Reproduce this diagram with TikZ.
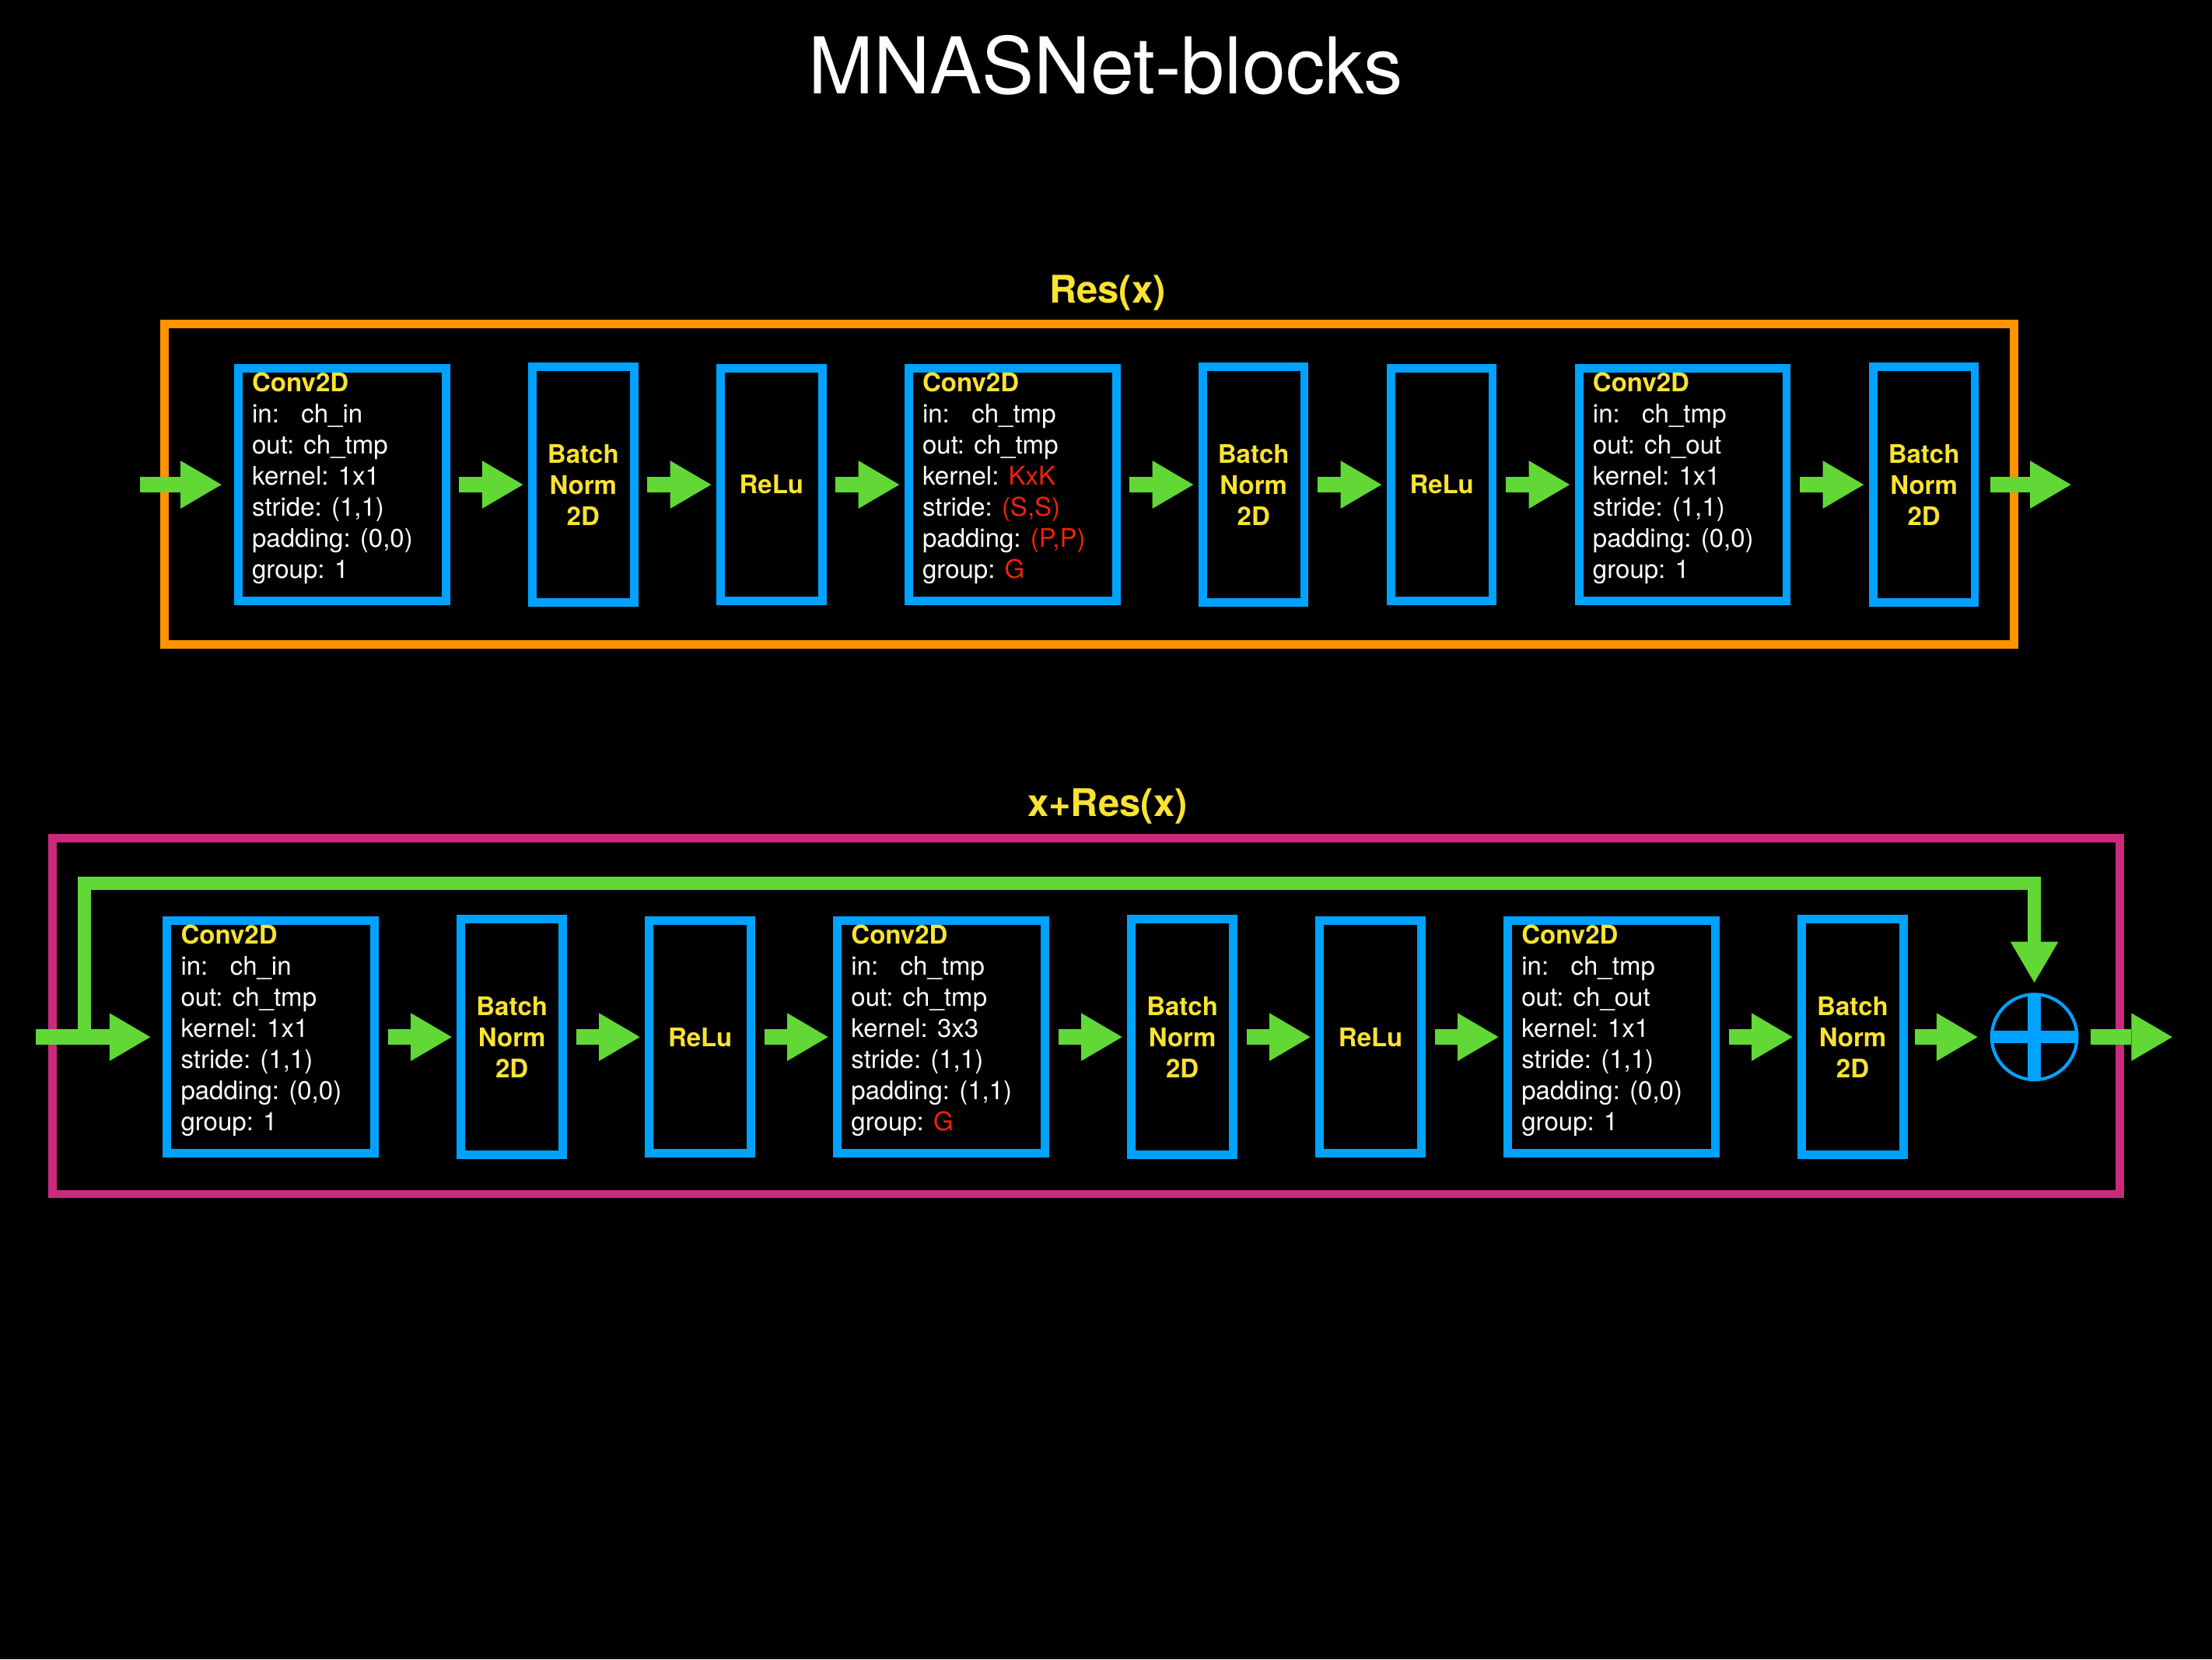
\documentclass[tikz,border=0pt]{standalone}
\usepackage{fontspec}
\setmainfont{TeX Gyre Heros}
\usepackage{calc}
\usetikzlibrary{arrows.meta, calc, positioning}
\definecolor{boxblue}{HTML}{00A2FF}
\definecolor{flowgreen}{HTML}{61D836}
\definecolor{resorange}{HTML}{FF9300}
\definecolor{skipmagenta}{HTML}{CB297B}
\definecolor{labelyellow}{HTML}{F9E232}
\definecolor{paramred}{HTML}{EE220C}
\tikzstyle{conv} = [rectangle, draw=boxblue, line width=6pt, minimum width=147pt, minimum height=165pt, inner sep=0pt, outer sep=0pt]
\tikzstyle{norm} = [rectangle, draw=boxblue, line width=6pt, minimum width=72pt, minimum height=167pt, inner sep=0pt, outer sep=0pt, align=center, text=labelyellow, font=\bfseries\fontsize{18.2pt}{22.05pt}\selectfont]
\tikzstyle{act} = [norm, minimum height=165pt]
\tikzstyle{params} = [anchor=north west, inner sep=0pt, align=left, text=white, font=\fontsize{18.2pt}{22.05pt}\selectfont]
\tikzstyle{heading} = [anchor=base, text=labelyellow, font=\bfseries\fontsize{27pt}{32pt}\selectfont]
\tikzstyle{arrow} = [flowgreen, line width=11pt, -{Triangle[width=34pt, length=29pt, line width=0pt]}]
\tikzstyle{link} = [arrow, shorten <=9.5pt, shorten >=6.7pt]
\tikzstyle{frame} = [line width=6pt]
\newcommand{\convhead}{\textcolor{labelyellow}{\bfseries Conv2D}}
\newcommand{\inlabel}{\makebox[\widthof{out:\ }][l]{in:}}
\newcommand{\paramval}[1]{\textcolor{paramred}{#1}}
\begin{document}
\begin{tikzpicture}[x=1pt, y=-1pt, node distance = 61.4pt]
		\path [use as bounding box, fill=black] (0,0) rectangle (1568,1176);
		\node (Title) [anchor=base, text=white, font=\fontsize{55.5pt}{66pt}\selectfont] at (784,66.2) {MNASNet-blocks};
		\node (ResTitle) [heading] at (785,214.7) {Res(x)};
		\node (XTitle) [heading] at (785,578.6) {x+Res(x)};
		\draw [frame, resorange] (116.7,229.5) rectangle (1427.7,457);
		\draw [frame, skipmagenta] (37,594) rectangle (1502.6,846.3);
		\node (ResConv1) [conv] at (242.5,343.5) {};
		\node (ResBN1) [norm, right = of ResConv1] {Batch\\Norm\\2D};
		\node (ResReLU1) [act, right = of ResBN1] {ReLu};
		\node (ResConv2) [conv, right = of ResReLU1] {};
		\node (ResBN2) [norm, right = of ResConv2] {Batch\\Norm\\2D};
		\node (ResReLU2) [act, right = of ResBN2] {ReLu};
		\node (ResConv3) [conv, right = of ResReLU2] {};
		\node (ResBN3) [norm, right = of ResConv3] {Batch\\Norm\\2D};
		\node (ResConv1Text) [params] at ([xshift=9.5pt, yshift=-3.1pt]ResConv1.north west) {\convhead\\\inlabel ch\_in\\out: ch\_tmp\\kernel: 1x1\\stride: (1,1)\\padding: (0,0)\\group: 1};
		\node (ResConv2Text) [params] at ([xshift=9.5pt, yshift=-3.1pt]ResConv2.north west) {\convhead\\\inlabel ch\_tmp\\out: ch\_tmp\\kernel: \paramval{KxK}\\stride: \paramval{(S,S)}\\padding: \paramval{(P,P)}\\group: \paramval{G}};
		\node (ResConv3Text) [params] at ([xshift=9.5pt, yshift=-3.1pt]ResConv3.north west) {\convhead\\\inlabel ch\_tmp\\out: ch\_out\\kernel: 1x1\\stride: (1,1)\\padding: (0,0)\\group: 1};
		\coordinate (ResIn) at (99,343.5);
		\coordinate (ResOut) at (1468,343.5);
		\draw [arrow, shorten >=12pt] (ResIn) -- (ResConv1);
		\draw [link] (ResConv1) -- (ResBN1);
		\draw [link] (ResBN1) -- (ResReLU1);
		\draw [link] (ResReLU1) -- (ResConv2);
		\draw [link] (ResConv2) -- (ResBN2);
		\draw [link] (ResBN2) -- (ResReLU2);
		\draw [link] (ResReLU2) -- (ResConv3);
		\draw [link] (ResConv3) -- (ResBN3);
		\draw [arrow, shorten <=11pt] (ResBN3) -- (ResOut);
		\node (XConv1) [conv] at (192,735) {};
		\node (XBN1) [norm, right = of XConv1] {Batch\\Norm\\2D};
		\node (XReLU1) [act, right = of XBN1] {ReLu};
		\node (XConv2) [conv, right = of XReLU1] {};
		\node (XBN2) [norm, right = of XConv2] {Batch\\Norm\\2D};
		\node (XReLU2) [act, right = of XBN2] {ReLu};
		\node (XConv3) [conv, right = of XReLU2] {};
		\node (XBN3) [norm, right = of XConv3] {Batch\\Norm\\2D};
		\node (XSum) [circle, draw=boxblue, line width=2.3pt, minimum size=60.5pt, inner sep=0pt, outer sep=0pt, right = 62.5pt of XBN3] {};
		\draw [boxblue, line width=9pt] (XSum.north) -- (XSum.south) (XSum.west) -- (XSum.east);
		\node (XConv1Text) [params] at ([xshift=9.5pt, yshift=-3.1pt]XConv1.north west) {\convhead\\\inlabel ch\_in\\out: ch\_tmp\\kernel: 1x1\\stride: (1,1)\\padding: (0,0)\\group: 1};
		\node (XConv2Text) [params] at ([xshift=9.5pt, yshift=-3.1pt]XConv2.north west) {\convhead\\\inlabel ch\_tmp\\out: ch\_tmp\\kernel: 3x3\\stride: (1,1)\\padding: (1,1)\\group: \paramval{G}};
		\node (XConv3Text) [params] at ([xshift=9.5pt, yshift=-3.1pt]XConv3.north west) {\convhead\\\inlabel ch\_tmp\\out: ch\_out\\kernel: 1x1\\stride: (1,1)\\padding: (0,0)\\group: 1};
		\coordinate (XIn) at (25.3,735);
		\coordinate (SkipStart) at (59.8,735);
		\coordinate (XOut) at (1539.8,735);
		\draw [arrow, line width=9.5pt, shorten >=8.3pt] (SkipStart) -- ++(0,-109) -| (XSum);
		\draw [arrow, shorten >=11.9pt] (XIn) -- (XConv1);
		\draw [link] (XConv1) -- (XBN1);
		\draw [link] (XBN1) -- (XReLU1);
		\draw [link] (XReLU1) -- (XConv2);
		\draw [link] (XConv2) -- (XBN2);
		\draw [link] (XBN2) -- (XReLU2);
		\draw [link] (XReLU2) -- (XConv3);
		\draw [link] (XConv3) -- (XBN3);
		\draw [arrow, shorten <=8pt, shorten >=10pt] (XBN3) -- (XSum);
		\draw [arrow, shorten <=9.8pt] (XSum) -- (XOut);
		\end{tikzpicture}
\end{document}
